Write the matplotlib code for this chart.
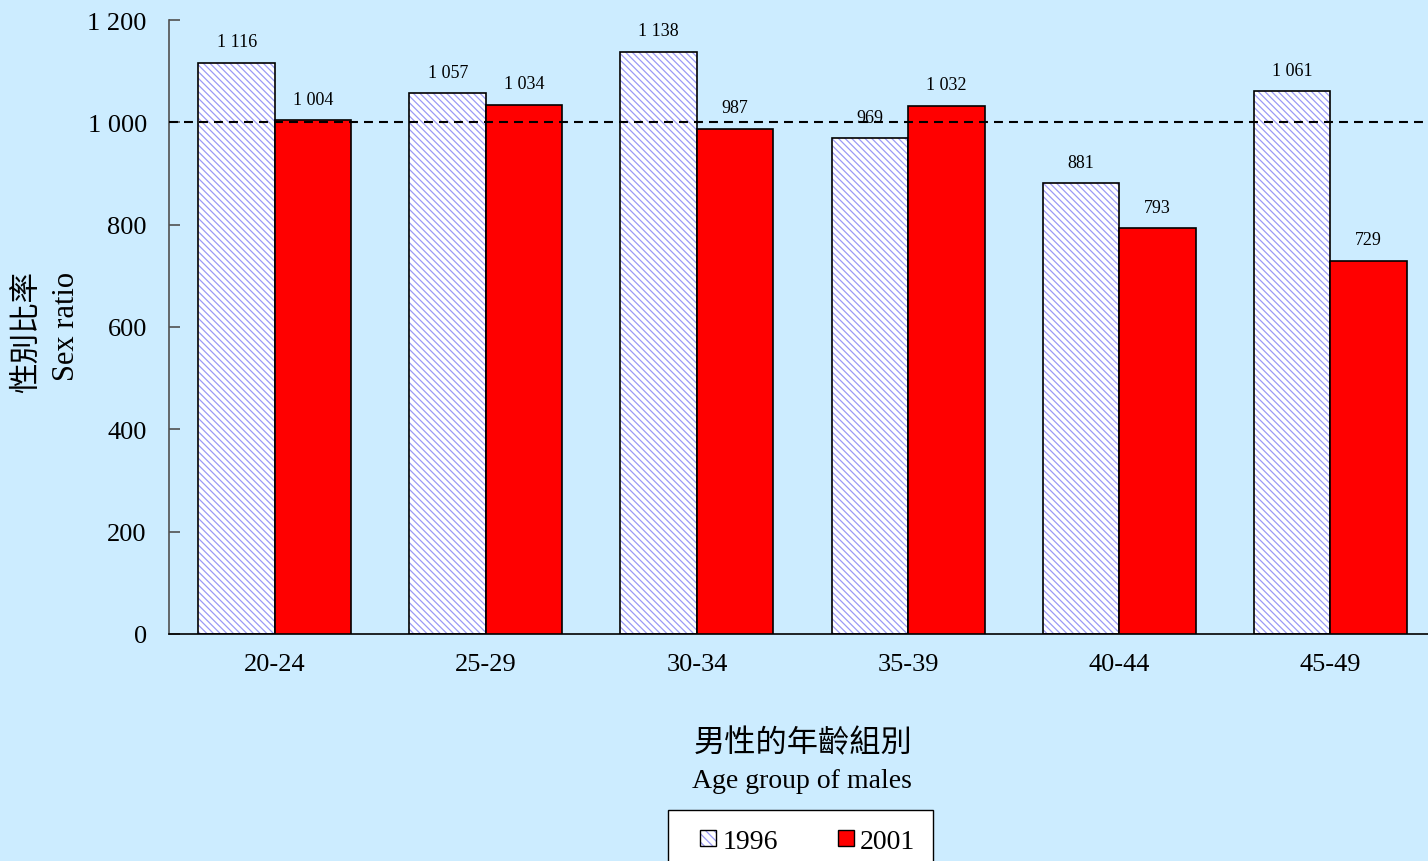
import matplotlib
matplotlib.use("Agg")
import matplotlib.pyplot as plt
from matplotlib.patches import Patch, Rectangle
from matplotlib.legend_handler import HandlerBase

# Data
age_groups = ["20-24", "25-29", "30-34", "35-39", "40-44", "45-49"]
ratio_1996 = [1116, 1057, 1138, 969, 881, 1061]
ratio_2001 = [1004, 1034, 987, 1032, 793, 729]
y_ticks = [0, 200, 400, 600, 800, 1000, 1200]
series_names = ["1996", "2001"]

BG = "#CCECFF"
HATCH_COLOR = "#9a9af5"
RED = "#FF0000"
HATCH = "\\" * 5
SERIF = ["Liberation Serif", "Noto Sans CJK TC"]
CJK = ["Noto Sans CJK TC", "DejaVu Sans"]

plt.rcParams["hatch.linewidth"] = 0.9
plt.rcParams["font.family"] = SERIF


def fmt(v):
    return f"{v:,}".replace(",", " ")


fig = plt.figure(figsize=(14.28, 8.62), dpi=100, facecolor=BG)
ax = fig.add_axes([169 / 1428, 1 - 635 / 862, 1 - 169 / 1428, (635 - 21) / 862])
ax.set_facecolor(BG)

w = 0.3625
x = list(range(len(age_groups)))
x96 = [i - w / 2 for i in x]
x01 = [i + w / 2 for i in x]

# 1996: hatched fill, then a black outline on top
ax.bar(x96, ratio_1996, width=w, color="white", edgecolor=HATCH_COLOR,
       hatch=HATCH, linewidth=0, zorder=2)
ax.bar(x96, ratio_1996, width=w, color="none", edgecolor="black",
       linewidth=1.2, zorder=3)
# 2001: solid red
ax.bar(x01, ratio_2001, width=w, color=RED, edgecolor="black",
       linewidth=1.2, zorder=3)

# value labels
for xs, vals in ((x96, ratio_1996), (x01, ratio_2001)):
    for xi, v in zip(xs, vals):
        ax.annotate(fmt(v), (xi, v), xytext=(0, 9), textcoords="offset points",
                    ha="center", va="bottom", fontsize=13, zorder=6)

# reference line at 1000
ax.axhline(1000, color="black", linestyle=(0, (4.3, 2.9)), linewidth=1.5,
           zorder=5)

ax.set_xlim(-0.502, 5.464)
ax.set_ylim(0, 1200)
ax.set_yticks(y_ticks)
ax.set_yticklabels([fmt(t) for t in y_ticks], fontsize=19)
ax.set_xticks(x)
ax.set_xticklabels(age_groups, fontsize=19)
ax.tick_params(axis="y", direction="in", length=8, width=1.2,
               color="#505050", pad=16)
ax.tick_params(axis="x", length=0, pad=14)

for s in ("top", "right"):
    ax.spines[s].set_visible(False)
ax.spines["left"].set_color("#505050")
ax.spines["left"].set_linewidth(1.2)
ax.spines["bottom"].set_color("black")
ax.spines["bottom"].set_linewidth(1.2)

# axis titles
fig.text(27 / 1428, 1 - 332 / 862, "性別比率", rotation=90, ha="center",
         va="center", fontsize=22, family=CJK)
fig.text(66 / 1428, 1 - 326 / 862, "Sex ratio", rotation=90, ha="center",
         va="center", fontsize=22)
fig.text(803 / 1428, 1 - 743 / 862, "男性的年齡組別", ha="center",
         va="center", fontsize=22.5, family=CJK)
fig.text(802 / 1428, 1 - 782 / 862, "Age group of males", ha="center",
         va="center", fontsize=20)


class SquareHandler(HandlerBase):
    """Small square swatch placed at the right end of the handle box."""

    def __init__(self, facecolor, hatch=None, size=11.5):
        super().__init__()
        self.facecolor = facecolor
        self.hatch = hatch
        self.size = size

    def create_artists(self, legend, orig_handle, xdescent, ydescent,
                       width, height, fontsize, trans):
        s = self.size
        x0 = width - s - xdescent
        y0 = -ydescent + (height - s) / 2
        artists = []
        if self.hatch:
            artists.append(Rectangle((x0, y0), s, s, facecolor="white",
                                     edgecolor=HATCH_COLOR, hatch=self.hatch,
                                     linewidth=0, transform=trans))
            artists.append(Rectangle((x0, y0), s, s, facecolor="none",
                                     edgecolor="black", linewidth=1.0,
                                     transform=trans))
        else:
            artists.append(Rectangle((x0, y0), s, s, facecolor=self.facecolor,
                                     edgecolor="black", linewidth=1.0,
                                     transform=trans))
        return artists


h96 = Patch(facecolor="white")
h01 = Patch(facecolor=RED)
leg = fig.legend([h96, h01], series_names, loc="upper left",
                 bbox_to_anchor=(668 / 1428, 1 - 811 / 862), ncol=2,
                 fontsize=20, frameon=True, fancybox=False, framealpha=1,
                 edgecolor="black", facecolor="white", handlelength=1.08,
                 handleheight=0.75, handletextpad=0.22, columnspacing=1.66,
                 borderpad=0.65, borderaxespad=0,
                 handler_map={h96: SquareHandler("white", hatch="\\" * 4),
                              h01: SquareHandler(RED)})
leg.get_frame().set_linewidth(1.0)

fig.savefig("out.png", dpi=100, facecolor=BG)
